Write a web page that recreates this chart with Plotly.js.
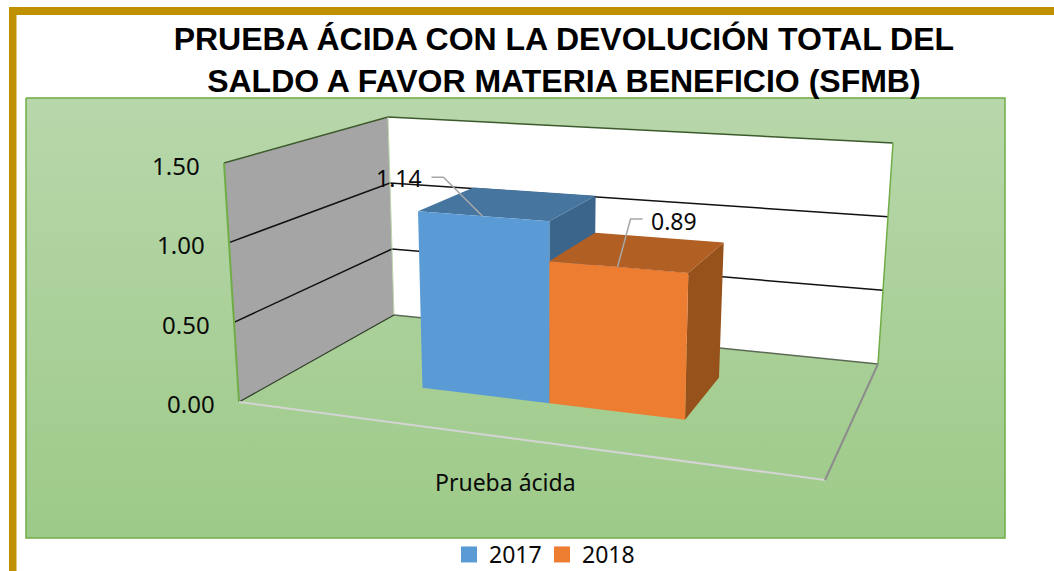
<!DOCTYPE html>
<html><head><meta charset="utf-8">
<script src="https://cdn.plot.ly/plotly-3.0.1.min.js"></script>
<style>html,body{margin:0;padding:0;background:#fff;overflow:hidden}</style></head>
<body><div id="chart" style="width:1054px;height:571px"></div>
<script>
// DATA
const categories = ["Prueba ácida"];
const seriesNames = ["2017", "2018"];
const values2017 = [1.14];
const values2018 = [0.89];
const valueTicks = [0, 0.5, 1, 1.5];
const tickLabels = ["0.00", "0.50", "1.00", "1.50"];
const titleText = "PRUEBA ÁCIDA CON LA DEVOLUCIÓN TOTAL DEL<br>SALDO A FAVOR MATERIA BENEFICIO (SFMB)";

// 3D projection calibration: box corners on screen (u: left-right, v: front-back, w: value)
const floorQuad = [[239,402],[825,480],[878,364],[394,315]];
const topQuad   = [[224,163],[835,204],[893,143],[388,117]];
const maxValue = 1.5;
const figH = 610;
function homography(q){
  const [p0,p1,p2,p3]=q;
  const dx1=p1[0]-p2[0],dx2=p3[0]-p2[0],sx=p0[0]-p1[0]+p2[0]-p3[0];
  const dy1=p1[1]-p2[1],dy2=p3[1]-p2[1],sy=p0[1]-p1[1]+p2[1]-p3[1];
  const den=dx1*dy2-dx2*dy1;
  const g=(sx*dy2-dx2*sy)/den,h=(dx1*sy-sx*dy1)/den;
  const a=p1[0]-p0[0]+g*p1[0],b=p3[0]-p0[0]+h*p3[0],d=p1[1]-p0[1]+g*p1[1],e=p3[1]-p0[1]+h*p3[1];
  return (u,v)=>{const n=g*u+h*v+1;return [(a*u+b*v+p0[0])/n,(d*u+e*v+p0[1])/n];};
}
const hFloor=homography(floorQuad), hTop=homography(topQuad);
function P(u,v,val){
  const f=hFloor(u,v),t=hTop(u,v),w=val/maxValue;
  return [f[0]+(t[0]-f[0])*w,f[1]+(t[1]-f[1])*w];
}
const traces=[];
function poly(pts,opt){
  traces.push(Object.assign({type:"scatter",mode:"lines",x:pts.map(p=>p[0]),y:pts.map(p=>p[1]),
    showlegend:false,hoverinfo:"skip",line:{width:0}},opt));
}
function face(pts,color){poly(pts.concat([pts[0]]),{fill:"toself",fillcolor:color,line:{width:0,color:color}});}
function seg(pts,color,width){poly(pts,{line:{color:color,width:width}});}

const GREEN="#70ad47";
// chart panel with gradient
poly([[26,98],[1005,98],[1005,538],[26,538],[26,98]],{fill:"toself",
  fillgradient:{type:"vertical",colorscale:[[0,"#9dca88"],[1,"#b8d7ab"]]},line:{color:GREEN,width:1.5}});
// walls
const mx=maxValue;
face([P(0,0,0),P(0,0,mx),P(0,1,mx),P(0,1,0)],"#a5a5a5");
face([P(0,1,0),P(0,1,mx),P(1,1,mx),P(1,1,0)],"#ffffff");
// gridlines
valueTicks.forEach(t=>{
  if(t>0&&t<mx) seg([P(0,0,t),P(0,1,t),P(1,1,t)],"#111111",1.5);
});
// box edges
seg([P(0,0,mx),P(0,1,mx),P(1,1,mx)],"#3c5a2c",1.5);
seg([P(0,0,0),P(0,0,mx)],GREEN,2);
seg([P(0,1,mx),P(0,1,0)],"#bcd8ae",1);
seg([P(1,1,mx),P(1,1,0)],GREEN,1.5);
seg([P(0,0,0),P(0,1,0)],"#2e3a28",1.2);
seg([P(0,1,0),P(1,1,0)],"#5c6a55",1.5);
seg([P(0,0,0),P(1,0,0)],"#d4d4d4",2);
seg([P(1,0,0),P(1,1,0)],"#8c8c8c",2);

// bars
const uEdges=[0.265,0.505,0.743], vFront=0.3, vBack=0.7;
function bar(i,val,cFront,cTop,cSide){
  const u0=uEdges[i],u1=uEdges[i+1];
  face([P(u1,vFront,0),P(u1,vBack,0),P(u1,vBack,val),P(u1,vFront,val)],cSide);
  face([P(u0,vFront,val),P(u1,vFront,val),P(u1,vBack,val),P(u0,vBack,val)],cTop);
  face([P(u0,vFront,0),P(u1,vFront,0),P(u1,vFront,val),P(u0,vFront,val)],cFront);
}
bar(0,values2017[0],"#5b9bd5","#46759f","#3b658b");
bar(1,values2018[0],"#ed7d31","#b25f23","#97511b");

// legend entries
[[seriesNames[0],"#5b9bd5"],[seriesNames[1],"#ed7d31"]].forEach(([n,c])=>{
  traces.push({type:"scatter",mode:"markers",x:[null],y:[null],name:n,showlegend:true,
    marker:{symbol:"square",size:16,color:c}});
});

// data label leaders
const baseFont={family:"Noto Sans, sans-serif",color:"#0a0a0a"};
const annotations=[];
function label(text,x,y,anchor,size){annotations.push({xref:"x",yref:"y",x,y,text,showarrow:false,xanchor:anchor||"center",yanchor:"middle",font:Object.assign({size:size||23},baseFont)});}
const a17=P((uEdges[0]+uEdges[1])/2,vFront,values2017[0]);
seg([a17,[a17[0]-39,a17[1]-39],[a17[0]-51,a17[1]-39]],"#a6a6a6",1.5);
const a18=P((uEdges[1]+uEdges[2])/2,vFront,values2018[0]);
seg([a18,[a18[0]+13,a18[1]-48],[a18[0]+25,a18[1]-48]],"#a6a6a6",1.5);
label(values2017[0].toFixed(2),a17[0]-83,a17[1]-38);
label(values2018[0].toFixed(2),a18[0]+56,a18[1]-46);
// axis ticks
valueTicks.forEach((t,i)=>{const p=P(0,0,t);label(tickLabels[i],p[0]-22,p[1]+(i===0?1:2),"right",24);});
// category label
const c=P(0.5,0,0);
label(categories[0],c[0]-2,c[1]+44);

const frame="#bf9000";
const shapes=[
 {type:"rect",xref:"x",yref:"y",x0:9,x1:16.5,y0:7,y1:figH,fillcolor:frame,line:{width:0},layer:"below"},
 {type:"rect",xref:"x",yref:"y",x0:9,x1:1054,y0:7,y1:15,fillcolor:frame,line:{width:0},layer:"below"}
];
Plotly.newPlot("chart",traces,{
  width:1054,height:figH,margin:{l:0,r:0,t:0,b:0},paper_bgcolor:"#fff",plot_bgcolor:"rgba(0,0,0,0)",
  xaxis:{range:[0,1054],visible:false,fixedrange:true},
  yaxis:{range:[figH,0],visible:false,fixedrange:true},
  title:{text:titleText,x:0.535,xanchor:"center",y:1-50/figH,yanchor:"top",font:{family:"Liberation Sans, Arial, sans-serif",size:32,color:"#000",weight:"bold"}},
  showlegend:true,
  legend:{orientation:"h",x:449/1054,xanchor:"left",y:1-533/figH,yanchor:"top",entrywidth:48,entrywidthmode:"pixels",font:{family:"Noto Sans, sans-serif",size:23,color:"#0a0a0a"},bgcolor:"rgba(0,0,0,0)"},
  annotations,shapes
},{staticPlot:true,displayModeBar:false});
</script></body></html>
